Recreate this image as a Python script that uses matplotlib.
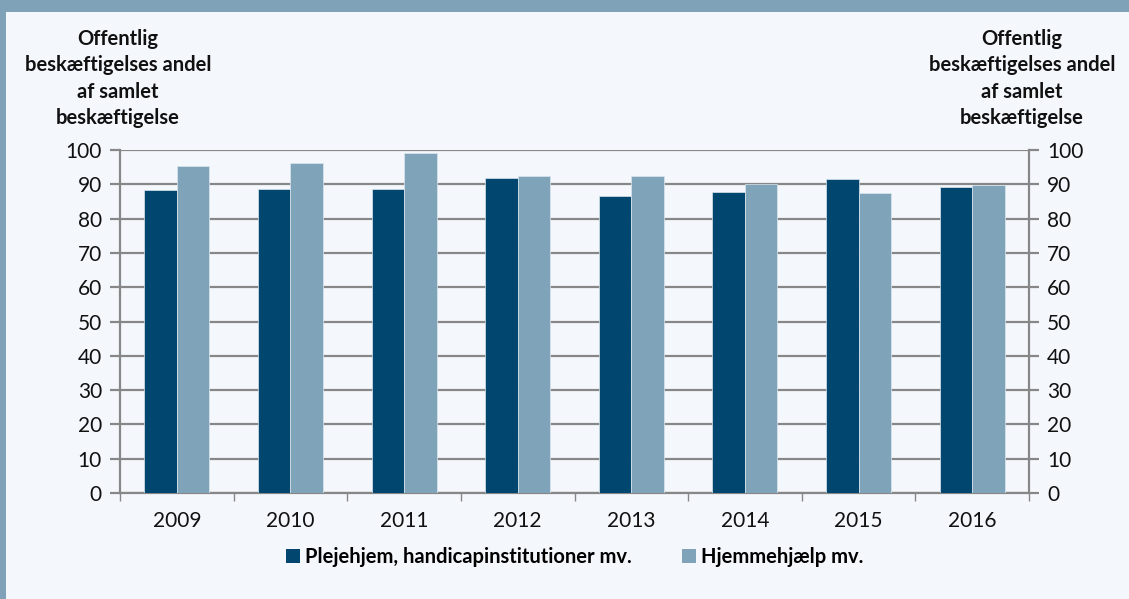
import numpy as np
import matplotlib.pyplot as plt
from matplotlib.patches import Rectangle, Patch

# data
years = ["2009", "2010", "2011", "2012", "2013", "2014", "2015", "2016"]
plejehjem = [88.2, 88.7, 88.5, 91.9, 86.7, 87.8, 91.4, 89.2]
hjemmehjaelp = [95.3, 96.3, 99.1, 92.3, 92.5, 90.2, 87.6, 89.8]
yticks = list(range(0, 101, 10))
ytitle = "Offentlig\nbeskæftigelses andel\naf samlet\nbeskæftigelse"

dark = "#00466e"
light = "#7fa3b8"
bg = "#f4f8fc"
grid = "#878787"

plt.rcParams['font.family'] = ['Lato', 'DejaVu Sans']

fig = plt.figure(figsize=(11.29, 5.99), dpi=100, facecolor=bg)
W, H = 1129, 599

# frame: top band and left strip
fig.patches.append(Rectangle((0, 1 - 12 / H), 1, 12 / H, transform=fig.transFigure,
                             facecolor="#7fa2b8", edgecolor="none", zorder=0))
fig.patches.append(Rectangle((0, 0), 6 / W, 1, transform=fig.transFigure,
                             facecolor="#7fa2b8", edgecolor="none", zorder=0))

ax = fig.add_axes([120 / W, (H - 493) / H, (1029 - 120) / W, (493 - 150) / H])
ax.set_facecolor(bg)

x = np.arange(len(years))
bw = 0.286
ax.bar(x - bw / 2, plejehjem, bw, color=dark, edgecolor="#dce6ee", linewidth=0.5, zorder=3)
ax.bar(x + bw / 2, hjemmehjaelp, bw, color=light, edgecolor="#dce6ee", linewidth=0.5, zorder=3)

ax.set_xlim(-0.5, len(years) - 0.5)
ax.set_ylim(0, 100)
ax.set_yticks(yticks)
ax.yaxis.grid(True, color=grid, linewidth=1.6, zorder=1)
ax.set_axisbelow(True)

ax.set_xticks(x)
ax.set_xticklabels(years, fontsize=15, color="#111111")
ax.set_xticks(np.arange(-0.5, len(years)), minor=True)
ax.tick_params(axis="x", which="major", length=0, pad=13)
ax.tick_params(axis="x", which="minor", length=6, width=1, color=grid)
ax.tick_params(axis="y", length=7, width=1.6, color=grid, labelsize=15, labelcolor="#111111", pad=6)

ax.spines["top"].set_visible(False)
for s in ["left", "right", "bottom"]:
    ax.spines[s].set_color(grid)
    ax.spines[s].set_linewidth(1.6)

ax2 = ax.twinx()
ax2.set_ylim(0, 100)
ax2.set_yticks(yticks)
ax2.tick_params(axis="y", length=7, width=1.6, color=grid, labelsize=15, labelcolor="#111111", pad=6)
for s in ["top", "left", "bottom", "right"]:
    ax2.spines[s].set_visible(False)

fig.text(118 / W, 1 - 29 / H, ytitle, ha="center", va="top", fontsize=14.5,
         fontweight="bold", linespacing=1.4, color="#111111")
fig.text(1022 / W, 1 - 29 / H, ytitle, ha="center", va="top", fontsize=14.5,
         fontweight="bold", linespacing=1.4, color="#111111")

handles = [Patch(facecolor=dark, edgecolor="none", label="Plejehjem, handicapinstitutioner mv."),
           Patch(facecolor=light, edgecolor="none", label="Hjemmehjælp mv.")]
fig.legend(handles=handles, loc="center", bbox_to_anchor=(575 / W, 1 - 557 / H), ncol=2,
           frameon=False, prop={"weight": "bold", "size": 14.5}, handlelength=0.7,
           handleheight=0.7, handletextpad=0.25, columnspacing=2.5)

fig.savefig("out.png", dpi=100, facecolor=bg)
